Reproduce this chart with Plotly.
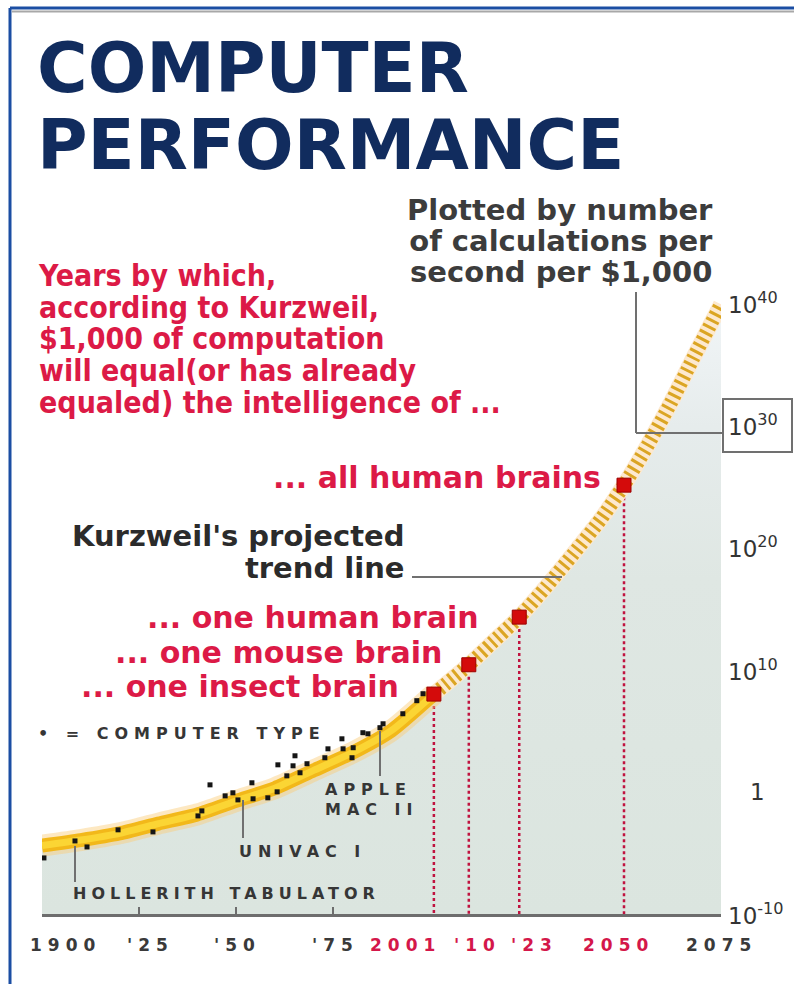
import json
import plotly.graph_objects as go

# ---------------- data ----------------
trend_years = [1900, 1910, 1920, 1930, 1940, 1950, 1960, 1970, 1980, 1990, 2001]
trend_exp = [-4.4, -3.95, -3.4, -2.6, -1.85, -0.75, 0.3, 1.75, 3.2, 5.0, 8.0]

proj_years = [2001, 2010, 2016, 2023, 2030, 2037, 2044, 2050, 2056, 2062, 2068, 2075]
proj_exp = [8.0, 10.4, 12.2, 14.3, 16.8, 19.5, 22.3, 25.1, 28.3, 31.8, 35.6, 39.9]

milestone_years = [2001, 2010, 2023, 2050]
milestone_exp = [8.0, 10.4, 14.3, 25.1]
milestone_labels = ["... one insect brain", "... one mouse brain",
                    "... one human brain", "... all human brains"]

computer_years = [1900.5, 1908.5, 1911.6, 1919.6, 1928.6, 1940.2, 1941.2, 1943.3, 1947.2,
                  1949.2, 1950.5, 1954.1, 1954.4, 1958.2, 1960.6, 1960.8, 1964.7, 1965.2,
                  1963.1, 1966.5, 1968.3, 1972.9, 1973.7, 1977.3, 1977.6, 1979.9, 1980.2,
                  1982.7, 1984.0, 1987.1, 1987.9, 1993.0, 1996.6, 1998.2]
computer_exp = [-5.41, -4.02, -4.51, -3.11, -3.28, -1.97, -1.56, 0.57, -0.33,
                -0.08, -0.66, 0.74, -0.57, -0.49, 0.0, 2.21, 2.13, 2.95,
                1.31, 1.56, 2.30, 2.79, 3.52, 4.34, 3.52, 2.79, 3.61,
                4.84, 4.75, 5.25, 5.57, 6.39, 7.46, 8.03]

x_tick_years = [1900, 1925, 1950, 1975, 2001, 2010, 2023, 2050, 2075]
x_tick_text = ["1900", "'25", "'50", "'75", "2001", "'10", "'23", "2050", "2075"]

y_tick_exp = [-10, 0, 10, 20, 30, 40]
y_tick_text = ["10<sup>-10</sup>", "1", "10<sup>10</sup>", "10<sup>20</sup>",
               "10<sup>30</sup>", "10<sup>40</sup>"]

title_lines = ["COMPUTER", "PERFORMANCE"]
intro_lines = ["Years by which,", "according to Kurzweil,", "$1,000 of computation",
               "will equal(or has already", "equaled) the intelligence of ..."]
units_lines = ["Plotted by number", "of calculations per", "second per $1,000"]
trend_label_lines = ["Kurzweil's projected", "trend line"]

# ---------------- layout helpers ----------------
W, H = 794, 984
PL, PR, PT, PB = 42, 721, 297, 914
Y_RANGE = [-10, 40.5]


def fx(px):
    return (px - PL) / (PR - PL)


def fy(py):
    return (PB - py) / (PB - PT)


NAVY = "#112c5e"
RED = "#dc1a46"
DARK = "#363636"
GRAYLINE = "#707070"
BOLD = "DejaVu Sans"
COND = "DejaVu Sans Condensed, DejaVu Sans"

fig = go.Figure()

# shaded area under the trend (baseline + fill)
all_years = trend_years + proj_years[1:]
all_exp = trend_exp + proj_exp[1:]
fig.add_trace(go.Scatter(x=[all_years[0], all_years[-1]], y=[10 ** Y_RANGE[0]] * 2,
                         mode="lines", line=dict(width=0), hoverinfo="skip", showlegend=False))
fig.add_trace(go.Scatter(x=all_years, y=[10 ** e for e in all_exp], mode="lines",
                         line=dict(width=0, shape="spline", smoothing=0.6),
                         fill="tonexty",
                         fillgradient=dict(type="vertical",
                                           colorscale=[[0, "#dbe5df"], [0.55, "#dfe7e3"],
                                                       [0.8, "#e6ecec"], [1, "#f1f5f7"]]),
                         hoverinfo="skip", showlegend=False))

# dotted red drop lines from milestones
dx, dy = [], []
for yr, e in zip(milestone_years, milestone_exp):
    dx += [yr, yr, None]
    dy += [10 ** e, 10 ** Y_RANGE[0], None]
fig.add_trace(go.Scatter(x=dx, y=dy, mode="lines",
                         line=dict(color="#c0123f", width=2.5, dash="3px,3px"),
                         hoverinfo="skip", showlegend=False))

# historic trend band
ty = [10 ** e for e in trend_exp]
fig.add_trace(go.Scatter(x=trend_years, y=ty, mode="lines",
                         line=dict(color="rgba(250,205,120,0.45)", width=22, shape="spline", smoothing=0.6),
                         hoverinfo="skip", showlegend=False))
fig.add_trace(go.Scatter(x=trend_years, y=ty, mode="lines",
                         line=dict(color="#f2b81a", width=14, shape="spline", smoothing=0.6),
                         hoverinfo="skip", showlegend=False))
fig.add_trace(go.Scatter(x=trend_years, y=ty, mode="lines",
                         line=dict(color="#fbd534", width=7, shape="spline", smoothing=0.6),
                         hoverinfo="skip", showlegend=False))

# projected (hatched) trend
py_ = [10 ** e for e in proj_exp]
fig.add_trace(go.Scatter(x=proj_years, y=py_, mode="lines",
                         line=dict(color="#fde9cf", width=16, shape="spline", smoothing=0.6),
                         hoverinfo="skip", showlegend=False))
fig.add_trace(go.Scatter(x=proj_years, y=py_, mode="lines",
                         line=dict(color="#dba523", width=14, dash="3px,4px", shape="spline", smoothing=0.6),
                         hoverinfo="skip", showlegend=False))

# computer types
fig.add_trace(go.Scatter(x=computer_years, y=[10 ** e for e in computer_exp], mode="markers",
                         marker=dict(symbol="square", size=5, color="#151515", line=dict(width=0)),
                         hoverinfo="skip", showlegend=False))

# milestones
fig.add_trace(go.Scatter(x=milestone_years, y=[10 ** e for e in milestone_exp], mode="markers",
                         marker=dict(symbol="square", size=14, color="#d40b0b",
                                     line=dict(color="#9a0000", width=1)),
                         hoverinfo="skip", showlegend=False))

annotations = []
spacing = {}      # annotation index -> letter spacing (px)
leading = {}      # annotation index -> line pitch (em)


def ann(text, xpx, ypx, xanchor="left", yanchor="middle", size=20, color=DARK,
        family=BOLD, weight="bold", align="left", ls=None, lead=None):
    annotations.append(dict(text=text, x=fx(xpx), y=fy(ypx), xref="paper", yref="paper",
                            xanchor=xanchor, yanchor=yanchor, showarrow=False, align=align,
                            font=dict(family=family, size=size, color=color, weight=weight)))
    if ls is not None:
        spacing[len(annotations) - 1] = ls
    if lead is not None:
        leading[len(annotations) - 1] = lead


def block(lines, xpx, first_baseline, pitch, size, **kw):
    # multi-line text block, top-anchored, with a tight line pitch
    top = first_baseline - 0.93 * size - 1
    ann("<br>".join(lines), xpx, top, yanchor="top", size=size, lead=pitch / size, **kw)


def base(baseline_px, size):
    # centre of a single-line annotation box whose text sits on this baseline
    return baseline_px - 0.346 * size


# title
block(title_lines, 35, 91, 77, 69, color=NAVY, family=BOLD)

block(units_lines, 715, 219, 31, 29, xanchor="right", align="right",
      color="#3c3c3c", family=BOLD)

block(intro_lines, 36, 285, 31.7, 30, color=RED, family=COND)

# milestone labels
lab_pos = {2001: (401, 697), 2010: (444, 663), 2023: (481, 628), 2050: (603, 488)}
for yr, lab in zip(milestone_years, milestone_labels):
    xp, yb = lab_pos[yr]
    ann(lab, xp, base(yb, 30), xanchor="right", size=30, color=RED, align="right")

block(trend_label_lines, 406, 545, 32, 29, xanchor="right", align="right",
      color="#2b2b2b", family=BOLD)

ann("• = COMPUTER TYPE", 36, 733, size=16, color=DARK, ls=6)
block(["APPLE", "MAC II"], 323, 794, 20, 16, color=DARK, ls=6)
ann("UNIVAC I", 237, 851, size=16, color=DARK, ls=6)
ann("HOLLERITH TABULATOR", 71, 893, size=16, color=DARK, ls=5)

# x tick labels (under the axis, offsets as in the original)
tick_shift = {1900: -14, 1925: -14, 1950: -24, 1975: -23, 2001: -66,
              2010: -17, 2023: -10, 2050: -43, 2075: -37}
red_ticks = {2001, 2010, 2023, 2050}
for yr, txt in zip(x_tick_years, x_tick_text):
    annotations.append(dict(text=txt, x=yr, xref="x", y=fy(945), yref="paper",
                            xanchor="left", yanchor="middle", xshift=tick_shift[yr],
                            showarrow=False, align="left",
                            font=dict(family=BOLD, size=17, weight="bold",
                                      color="#d4174a" if yr in red_ticks else "#3a3a3a")))
    spacing[len(annotations) - 1] = 6

# y labels on the right
for e, txt in zip(y_tick_exp, y_tick_text):
    annotations.append(dict(text=txt, x=fx(748 if e == 0 else 726), xref="paper",
                            y=e, yref="y", xanchor="left", yanchor="middle",
                            showarrow=False, align="left",
                            font=dict(family="DejaVu Sans", size=23, color="#333333")))

shapes = []


def seg(x0, y0, x1, y1, color=GRAYLINE, width=2):
    shapes.append(dict(type="line", xref="paper", yref="paper",
                       x0=fx(x0), y0=fy(y0), x1=fx(x1), y1=fy(y1),
                       line=dict(color=color, width=width)))


# frame
seg(10, 8, W, 8, color="#1b4ea3", width=3)
seg(12, 11.5, W, 11.5, color="#a8a8a8", width=2)
seg(10, 8, 10, H, color="#1b4ea3", width=3)
# callouts
seg(636, 292, 636, 433)
seg(636, 433, 723, 433)
shapes.append(dict(type="rect", xref="paper", yref="paper",
                   x0=fx(723), y0=fy(399), x1=fx(792), y1=fy(452),
                   line=dict(color=GRAYLINE, width=2), fillcolor="rgba(255,255,255,0)"))
seg(412, 577, 562, 577)
seg(380, 731, 380, 776)
seg(243, 800, 243, 838)
seg(75, 846, 75, 882)

fig.update_layout(
    width=W, height=H,
    margin=dict(l=PL, r=W - PR, t=PT, b=H - PB, pad=0),
    paper_bgcolor="white", plot_bgcolor="rgba(0,0,0,0)",
    showlegend=False,
    xaxis=dict(range=[1900, 2075], showgrid=False, zeroline=False, showline=True,
               linecolor="#6d6d6d", linewidth=3, ticks="inside",
               tickvals=[1900, 1925, 1950, 1975, 2075], ticklen=7, tickwidth=2,
               tickcolor="#6d6d6d", showticklabels=False, fixedrange=True),
    yaxis=dict(type="log", range=Y_RANGE, showgrid=False, zeroline=False,
               showline=False, showticklabels=False, ticks="", fixedrange=True),
    annotations=annotations,
    shapes=shapes,
)

post = """
document.body.style.margin = '0';
document.body.style.overflow = 'hidden';
var gd = document.getElementById('{plot_id}');
var SP = %s;
var LEAD = %s;
function fixText(){
  Object.keys(SP).forEach(function(k){
    var g = gd.querySelector('g.annotation[data-index="' + k + '"]');
    if (!g) return;
    g.querySelectorAll('text').forEach(function(t){ t.style.letterSpacing = SP[k] + 'px'; });
  });
  Object.keys(LEAD).forEach(function(k){
    var g = gd.querySelector('g.annotation[data-index="' + k + '"]');
    if (!g) return;
    g.querySelectorAll('tspan.line').forEach(function(t, i){
      t.setAttribute('dy', (i * LEAD[k]).toFixed(4) + 'em');
    });
  });
}
fixText();
if (gd.on) { gd.on('plotly_afterplot', fixText); }
""" % (json.dumps(spacing), json.dumps(leading))

fig.write_html("out.html", post_script=post, config={"displayModeBar": False})
